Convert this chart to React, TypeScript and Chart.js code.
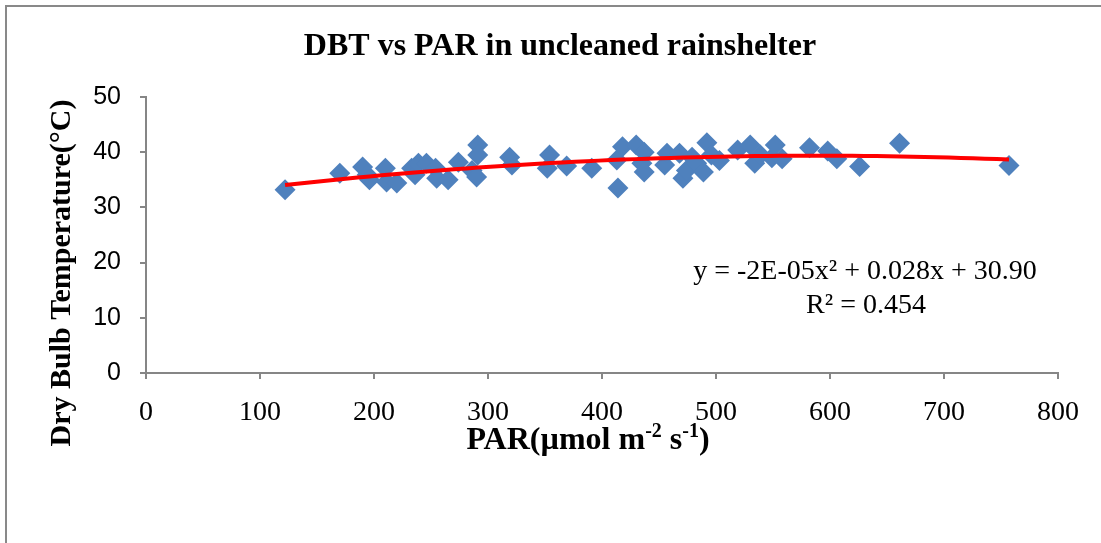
import React, { useEffect, useRef } from "react";
import { Chart, registerables } from "chart.js";

Chart.register(...registerables);

const CHART_TITLE = "DBT vs PAR in uncleaned rainshelter";
const Y_TITLE = "Dry Bulb Temperature(°C)";
const X_TITLE_PARTS: [string, boolean][] = [
  ["PAR(µmol m", false],
  ["-2", true],
  [" s", false],
  ["-1", true],
  [")", false],
];
const EQUATION = "y = -2E-05x² + 0.028x + 30.90";
const R_SQUARED = "R² = 0.454";

const PAR = [
  122, 170, 190, 194, 196, 210, 211, 220, 233, 236, 239, 246, 254, 255, 265,
  274, 286, 290, 291, 291, 319, 321, 352, 354, 369, 391, 413, 414, 418, 430,
  435, 437, 437, 455, 457, 468, 471, 474, 479, 483, 489, 492, 496, 503, 519,
  530, 534, 539, 549, 552, 558, 582, 598, 606, 626, 661, 757,
];
const DBT = [
  33.2, 36.2, 37.3, 35.9, 35.0, 37.1, 34.6, 34.4, 37.1, 35.9, 38.0, 38.0, 37.1,
  35.3, 35.0, 38.2, 36.7, 35.5, 41.3, 39.5, 39.1, 37.7, 37.1, 39.5, 37.5, 37.1,
  38.6, 33.5, 41.0, 41.3, 38.0, 40.0, 36.4, 37.7, 39.8, 39.8, 35.3, 36.7, 39.1,
  38.0, 36.4, 41.7, 39.5, 38.5, 40.4, 41.3, 38.0, 39.5, 39.0, 41.3, 38.8, 40.8,
  40.2, 38.8, 37.4, 41.6, 37.6,
];

// polynomial trendline coefficients (order 2)
const TREND_A = -2.45e-5;
const TREND_B = 0.0288;
const TREND_C = 30.9;

const X_TICKS = [0, 100, 200, 300, 400, 500, 600, 700, 800];
const Y_TICKS = [0, 10, 20, 30, 40, 50];

const SERIF = "'Liberation Serif', 'Times New Roman', serif";
const SANS = "'Liberation Sans', Arial, sans-serif";

export default function App() {
  const ref = useRef<HTMLCanvasElement>(null);

  useEffect(() => {
    document.body.style.margin = "0";
    const canvas = ref.current;
    if (!canvas) return;

    const xMin = Math.min(...PAR);
    const xMax = Math.max(...PAR);
    const trend: { x: number; y: number }[] = [];
    const steps = 60;
    for (let i = 0; i <= steps; i++) {
      const x = xMin + ((xMax - xMin) * i) / steps;
      trend.push({ x, y: TREND_A * x * x + TREND_B * x + TREND_C });
    }

    const textPlugin = {
      id: "texts",
      beforeDraw(chart: any) {
        const ctx = chart.ctx;
        ctx.save();
        ctx.fillStyle = "#ffffff";
        ctx.fillRect(0, 0, chart.width, chart.height);
        ctx.strokeStyle = "#898989";
        ctx.lineWidth = 2;
        ctx.beginPath();
        ctx.moveTo(6, chart.height);
        ctx.lineTo(6, 6);
        ctx.lineTo(chart.width, 6);
        ctx.stroke();
        ctx.restore();
      },
      afterDraw(chart: any) {
        const ctx = chart.ctx;
        ctx.save();
        ctx.fillStyle = "#000000";
        ctx.textBaseline = "middle";
        // title
        ctx.font = `bold 32px ${SERIF}`;
        ctx.textAlign = "center";
        ctx.fillText(CHART_TITLE, 560, 47);
        // y title
        ctx.save();
        ctx.translate(62, 273);
        ctx.rotate(-Math.PI / 2);
        ctx.font = `bold 30px ${SERIF}`;
        ctx.fillText(Y_TITLE, 0, 0);
        ctx.restore();
        // x title with superscripts
        const mainFont = `bold 32px ${SERIF}`;
        const supFont = `bold 20px ${SERIF}`;
        let total = 0;
        for (const [t, sup] of X_TITLE_PARTS) {
          ctx.font = sup ? supFont : mainFont;
          total += ctx.measureText(t).width;
        }
        let x = 588 - total / 2;
        ctx.textAlign = "left";
        for (const [t, sup] of X_TITLE_PARTS) {
          ctx.font = sup ? supFont : mainFont;
          ctx.fillText(t, x, sup ? 432 : 441);
          x += ctx.measureText(t).width;
        }
        // equation
        ctx.font = `28px ${SERIF}`;
        ctx.textAlign = "center";
        ctx.fillText(EQUATION, 865, 272);
        ctx.fillText(R_SQUARED, 866, 306);
        ctx.restore();
      },
    };

    const chart = new Chart(canvas, {
      type: "scatter",
      data: {
        datasets: [
          {
            label: "trend",
            type: "line",
            data: trend,
            borderColor: "#ff0000",
            borderWidth: 4,
            pointRadius: 0,
            fill: false,
            tension: 0,
            order: 0,
          },
          {
            label: "DBT",
            data: PAR.map((p, i) => ({ x: p, y: DBT[i] })),
            pointStyle: "rectRot",
            pointRadius: 10.5,
            backgroundColor: "#4f81bd",
            borderColor: "#4f81bd",
            borderWidth: 0,
            order: 1,
          },
        ],
      },
      options: {
        animation: false,
        responsive: false,
        maintainAspectRatio: false,
        layout: { padding: { left: 0, top: 97, right: 43, bottom: 0 } },
        plugins: {
          legend: { display: false },
          title: { display: false },
          tooltip: { enabled: false },
        },
        scales: {
          x: {
            type: "linear",
            min: 0,
            max: 800,
            afterBuildTicks: (s: any) => {
              s.ticks = X_TICKS.map((v) => ({ value: v }));
            },
            afterFit: (s: any) => {
              s.height = 170;
            },
            ticks: {
              font: { family: SERIF, size: 28 },
              color: "#000",
              padding: 17,
            },
            grid: {
              drawOnChartArea: false,
              drawTicks: true,
              tickLength: 6,
              color: "#868686",
              lineWidth: 2,
            },
            border: { color: "#868686", width: 2 },
          },
          y: {
            type: "linear",
            min: 0,
            max: 50,
            afterBuildTicks: (s: any) => {
              s.ticks = Y_TICKS.map((v) => ({ value: v }));
            },
            afterFit: (s: any) => {
              s.width = 146;
            },
            ticks: {
              font: { family: SANS, size: 25 },
              color: "#000",
              padding: 19,
            },
            grid: {
              drawOnChartArea: false,
              drawTicks: true,
              tickLength: 6,
              color: "#868686",
              lineWidth: 2,
            },
            border: { color: "#868686", width: 2 },
          },
        },
      },
      plugins: [textPlugin],
    } as any);

    return () => chart.destroy();
  }, []);

  return (
    <div style={{ width: 1101, height: 543, position: "relative" }}>
      <canvas ref={ref} width={1101} height={543} style={{ display: "block" }} />
    </div>
  );
}
